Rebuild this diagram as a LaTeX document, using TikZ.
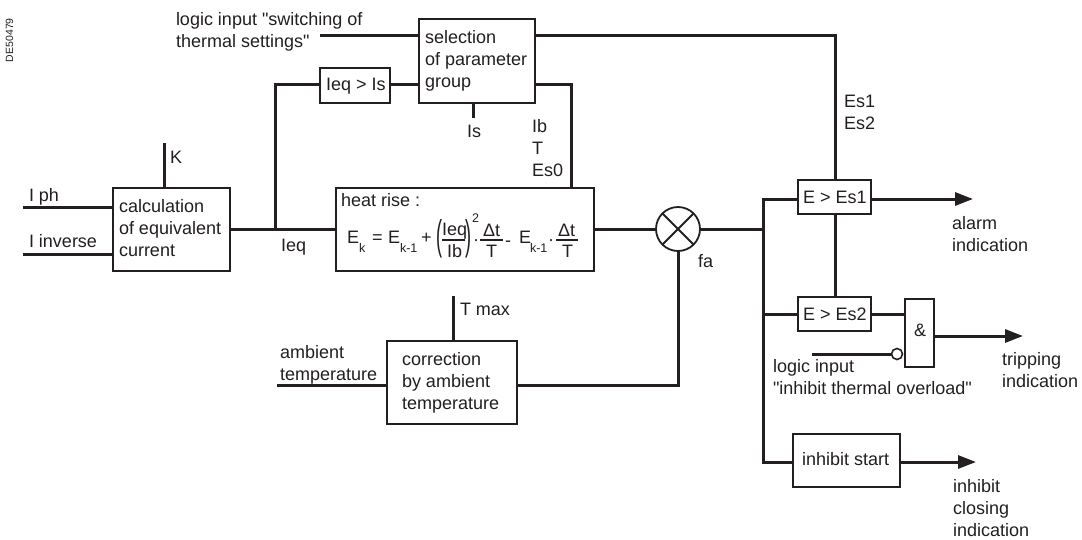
\documentclass[tikz,border=0pt]{standalone}
\usepackage{fontspec}
\setmainfont{Liberation Sans}
\newfontfamily\qf{Liberation Sans}[Ligatures=NoCommon]
\usetikzlibrary{arrows.meta}
\definecolor{ink}{HTML}{231F20}
\newcommand{\qq}{{\XeTeXinputnormalization=0 \qf\char34 }}
\tikzset{
 box/.style={draw=ink,line width=1.4pt,fill=white,inner sep=0pt,outer sep=0pt},
 wire/.style={line width=3pt,draw=ink},
 arr/.style={wire,-{Triangle[length=18pt,width=13pt]}},
 lbl/.style={inner sep=0pt,outer sep=0pt,anchor=base west,align=left,font=\fontsize{18}{22}\selectfont,text=ink},
 sub/.style={lbl,font=\fontsize{12.5}{14}\selectfont},
 frac/.style={line width=1.1pt,draw=ink},
}
\newcommand{\bx}[5]{\node[box,minimum width=#4pt,minimum height=#5pt,anchor=north west] (#1) at (#2,#3) {};}
\newcommand{\tallp}[1]{\scalebox{1}[2.3]{#1}}
\begin{document}
\begin{tikzpicture}[x=1pt,y=-1pt]
\useasboundingbox (0,0) rectangle (1082,539);
% free ends
\coordinate (iph) at (23,207);
\coordinate (iinv) at (23,254);
\coordinate (k) at (164,143);
\coordinate (sw) at (320,35);
\coordinate (is) at (473,118);
\coordinate (amb) at (277,385);
\coordinate (tmax) at (453,296);
\coordinate (inl) at (812,354);
\coordinate (alarm) at (973,199);
\coordinate (trip) at (1023,336);
\coordinate (inhe) at (976,462);
% wires first, boxes on top
\draw[wire] (iph)--(113,207);
\draw[wire] (iinv)--(113,254);
\draw[wire] (k)--(164,188);
\draw[wire] (230,229)--(336,229);
\draw[wire] (275,229)--(275,84)--(320,84);
\draw[wire] (390,84)--(419,84);
\draw[wire] (sw)--(419,35);
\draw[wire] (473,103)--(is);
\draw[wire] (535,84)--(571,84)--(571,188);
\draw[wire] (594,229)--(656,229);
\draw[wire] (678,251)--(678,385)--(517,385);
\draw[wire] (amb)--(387,385);
\draw[wire] (tmax)--(453,341);
\draw[wire] (700,229)--(763,229);
\draw[wire] (798,199)--(763,199)--(763,462)--(793,462);
\draw[wire] (763,314)--(798,314);
\draw[wire] (535,35)--(835,35)--(835,180);
\draw[wire] (835,214)--(835,297);
\draw[wire] (871,314)--(905,314);
\draw[wire] (inl)--(892,354);
\draw[arr] (871,199)--(alarm);
\draw[arr] (934,336)--(trip);
\draw[arr] (900,462)--(inhe);
% boxes
\bx{sel}{419}{19}{116}{84}
\bx{cmp}{320}{68}{70}{35}
\bx{heat}{336}{188}{258}{83}
\bx{calc}{113}{188}{117}{83}
\bx{corr}{387}{341}{130}{83}
\bx{es1}{798}{180}{73}{34}
\bx{es2}{798}{297}{73}{34}
\bx{andg}{905}{299}{29}{68}
\bx{inh}{793}{434}{107}{53}
\node[draw=ink,line width=1.8pt,circle,minimum size=44pt,inner sep=0pt,outer sep=0pt,fill=white] (mul) at (678,229) {};
\draw[line width=1.8pt,draw=ink] (mul.45)--(mul.225) (mul.135)--(mul.315);
\node[draw=ink,line width=1.6pt,circle,minimum size=11pt,inner sep=0pt,outer sep=0pt,fill=white] (neg) at (897,354) {};
% labels
\node[lbl,font=\fontsize{10.5}{12}\selectfont,rotate=90] (code) at (13,62) {DE50479};
\node[lbl] (t1) at (176,47) {logic input \qq switching of\\thermal settings\qq};
\node[lbl] (t2) at (425,87) {selection\\of parameter\\group};
\node[lbl] (t3) at (326,90) {Ieq > Is};
\node[lbl] (t4) at (467,137) {Is};
\node[lbl] (t5) at (532,176) {Ib\\T\\Es0};
\node[lbl] (t6) at (844,129) {Es1\\Es2};
\node[lbl] (t7) at (170,163) {K};
\node[lbl] (t8) at (29,201) {I ph};
\node[lbl] (t9) at (29,247) {I inverse};
\node[lbl] (t10) at (119,256) {calculation\\of equivalent\\current};
\node[lbl] (t11) at (281,251) {Ieq};
\node[lbl] (t12) at (341,206) {heat rise :};
\node[lbl] (t13) at (698,267) {fa};
\node[lbl] (t14) at (460,315) {T max};
\node[lbl] (t15) at (280,380) {ambient\\temperature};
\node[lbl] (t16) at (402,409) {correction\\by ambient\\temperature};
\node[lbl] (t17) at (803,203) {E > Es1};
\node[lbl] (t18) at (803,320) {E > Es2};
\node[lbl] (t19) at (914,336) {\&};
\node[lbl] (t20) at (773,394) {logic input\\\qq inhibit thermal overload\qq};
\node[lbl] (t22) at (952,251) {alarm\\indication};
\node[lbl] (t23) at (1002,387) {tripping\\indication};
\node[lbl] (t24) at (802,465) {inhibit start};
\node[lbl] (t25) at (953,536) {inhibit\\closing\\indication};
% formula
\node[lbl] (f1) at (347,243) {E};
\node[sub] (f2) at (359,252) {k};
\node[lbl] (f3) at (372,243) {=};
\node[lbl] (f3b) at (388,243) {E};
\node[sub] (f4) at (400,252) {k-1};
\node[lbl] (f5) at (421,243) {+};
\node[lbl] (f6) at (436,249) {\tallp{(}};
\node[lbl] (f7) at (442,235) {Ieq};
\node[lbl] (f8) at (447,257) {Ib};
\coordinate (fa1) at (442,240); \coordinate (fa2) at (465,240);
\draw[frac] (fa1)--(fa2);
\node[lbl] (f9) at (465,249) {\tallp{)}};
\node[sub] (f10) at (472,222) {2};
\node[lbl] (f11) at (473,245) {·};
\node[lbl] (f12) at (483,236) {Δt};
\node[lbl] (f13) at (486,257) {T};
\coordinate (fb1) at (480,240); \coordinate (fb2) at (503,240);
\draw[frac] (fb1)--(fb2);
\node[lbl] (f14) at (505,246) {-};
\node[lbl] (f15) at (519,243) {E};
\node[sub] (f16) at (530,252) {k-1};
\node[lbl] (f17) at (548,245) {·};
\node[lbl] (f18) at (558,236) {Δt};
\node[lbl] (f19) at (562,257) {T};
\coordinate (fc1) at (556,240); \coordinate (fc2) at (578,240);
\draw[frac] (fc1)--(fc2);
\end{tikzpicture}
\end{document}
